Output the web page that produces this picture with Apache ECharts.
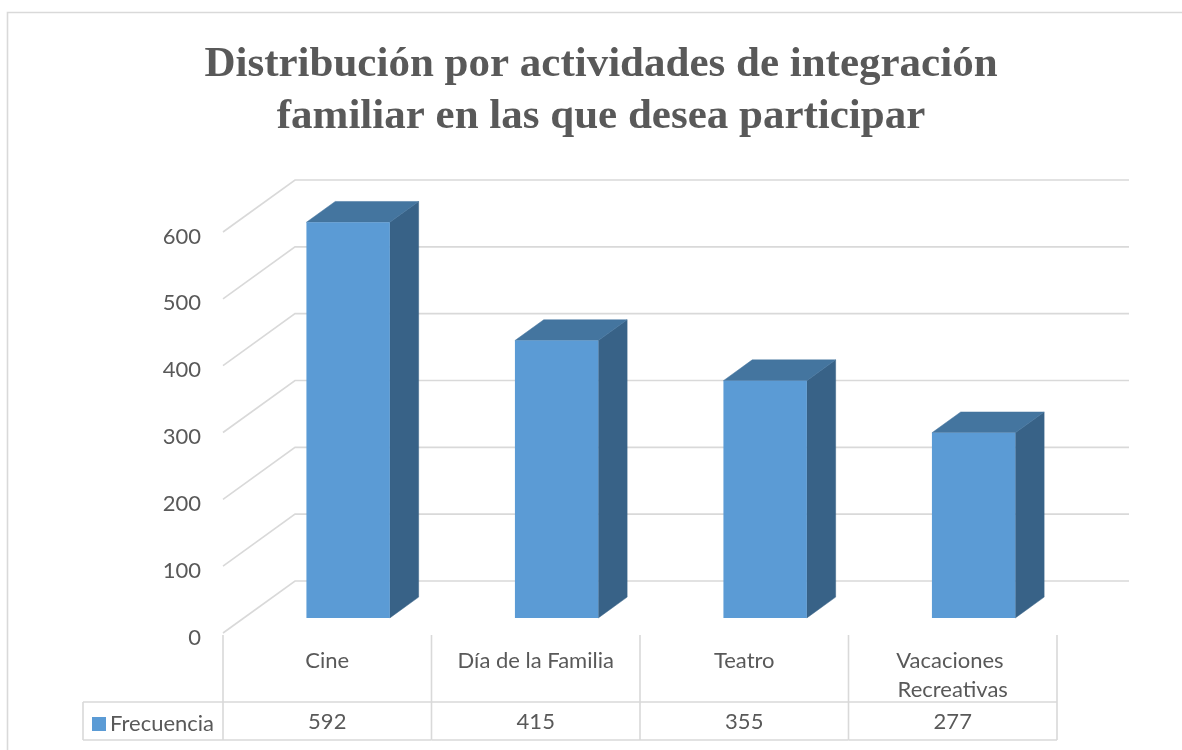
<!DOCTYPE html>
<html>
<head>
<meta charset="utf-8">
<script src="https://cdn.jsdelivr.net/npm/echarts@6/dist/echarts.min.js"></script>
<style>
html,body{margin:0;padding:0;background:#fff;}
#chart{width:1182px;height:750px;}
</style>
</head>
<body>
<div id="chart"></div>
<script>
const titleText = 'Distribución por actividades de integración\nfamiliar en las que desea participar';
const categories = ['Cine', 'Día de la Familia', 'Teatro', 'Vacaciones Recreativas'];
const seriesName = 'Frecuencia';
const frecuencia = [592, 415, 355, 277];
const yTicks = [0, 100, 200, 300, 400, 500, 600];

const DEPTH_X = 72, DEPTH_Y = -52;      // full depth projection
const BAR_FRONT = 0.29, BAR_BACK = 0.69; // bar position inside depth
const GRID_COLOR = '#d9d9d9';
const TEXT_COLOR = '#595959';
const FONT = 'Lato, "Open Sans", sans-serif';
const FS = 22;

const chart = echarts.init(document.getElementById('chart'), null, {renderer: 'canvas'});

function wallItem(params, api) {
  const cs = params.coordSys;
  const p = api.coord([0, api.value(1)]);
  const y = p[1];
  const x0 = cs.x;
  return {
    type: 'polyline',
    shape: {points: [[x0, y], [x0 + DEPTH_X, y + DEPTH_Y], [x0 + cs.width + DEPTH_X, y + DEPTH_Y]]},
    style: {stroke: GRID_COLOR, lineWidth: 1.6, fill: null},
    silent: true
  };
}

function barItem(params, api) {
  const idx = api.value(0);
  const top = api.coord([idx, api.value(1)]);
  const base = api.coord([idx, 0]);
  const w = api.size([1, 0])[0] * 0.4;
  const fx = DEPTH_X * BAR_FRONT, fy = DEPTH_Y * BAR_FRONT;
  const bx = DEPTH_X * (BAR_BACK - BAR_FRONT), by = DEPTH_Y * (BAR_BACK - BAR_FRONT);
  const x0 = top[0] - w / 2 + fx, x1 = x0 + w;
  const yt = top[1] + fy, yb = base[1] + fy;
  return {
    type: 'group',
    children: [
      {type: 'polygon', shape: {points: [[x1, yt], [x1 + bx, yt + by], [x1 + bx, yb + by], [x1, yb]]},
       style: {fill: '#386287', stroke: '#386287', lineWidth: 0.5}},
      {type: 'polygon', shape: {points: [[x0, yt], [x1, yt], [x1 + bx, yt + by], [x0 + bx, yt + by]]},
       style: {fill: '#44759f', stroke: '#44759f', lineWidth: 0.5}},
      {type: 'rect', shape: {x: x0, y: yt, width: w, height: yb - yt},
       style: {fill: '#5b9bd5'}}
    ]
  };
}

function tableItem(params, api) {
  const cs = params.coordSys;
  const idx = api.value(0);
  const c = api.coord([idx, 0]);
  const cw = api.size([1, 0])[0];
  const base = cs.y + cs.height;
  const rowTop = base + 69, rowBot = base + 107;
  const children = [];
  const xl = c[0] - cw / 2, xr = c[0] + cw / 2;
  const ls = {stroke: GRID_COLOR, lineWidth: 1.6};
  if (idx === 0) {
    children.push({type: 'line', shape: {x1: xl, y1: base + 2, x2: xl, y2: rowBot}, style: ls});
    children.push({type: 'line', shape: {x1: xl - 140, y1: rowTop, x2: xl, y2: rowTop}, style: ls});
    children.push({type: 'line', shape: {x1: xl - 140, y1: rowBot, x2: xl, y2: rowBot}, style: ls});
    children.push({type: 'line', shape: {x1: xl - 140, y1: rowTop, x2: xl - 140, y2: rowBot}, style: ls});
  }
  children.push({type: 'line', shape: {x1: xr, y1: base + 2, x2: xr, y2: rowBot}, style: ls});
  children.push({type: 'line', shape: {x1: xl, y1: rowTop, x2: xr, y2: rowTop}, style: ls});
  children.push({type: 'line', shape: {x1: xl, y1: rowBot, x2: xr, y2: rowBot}, style: ls});
  children.push({type: 'text', style: {text: String(api.value(1)), x: c[0], y: (rowTop + rowBot) / 2 + 1,
    align: 'center', verticalAlign: 'middle', fill: TEXT_COLOR, font: FS + 'px ' + FONT}});
  return {type: 'group', children: children, silent: true};
}

const option = {
  backgroundColor: '#ffffff',
  animation: false,
  title: {
    text: titleText,
    left: 601, top: 39, textAlign: 'center', padding: 0,
    textStyle: {fontFamily: '"Liberation Serif", serif', fontWeight: 'bold', fontSize: 43, lineHeight: 52, color: TEXT_COLOR}
  },
  graphic: [{type: 'rect', shape: {x: 7.5, y: 12.5, width: 1220, height: 800}, style: {fill: null, stroke: GRID_COLOR, lineWidth: 1.6}, silent: true, z: -10}],
  legend: {
    data: [seriesName], left: 92, top: 713, itemWidth: 14, itemHeight: 14, itemGap: 6, padding: 0,
    icon: 'rect', textStyle: {color: TEXT_COLOR, fontSize: FS, fontFamily: FONT, padding: [0, 0, 0, -1]}
  },
  grid: {left: 223, right: 125, top: 232, bottom: 117, containLabel: false},
  xAxis: {
    type: 'category', data: categories,
    axisLine: {show: false}, axisTick: {show: false}, splitLine: {show: false},
    axisLabel: {color: TEXT_COLOR, fontSize: FS, fontFamily: FONT, margin: 13, lineHeight: 29, interval: 0,
      width: 180, overflow: 'break'}
  },
  yAxis: {
    type: 'value', min: 0, max: 600, interval: 100,
    axisLine: {show: false}, axisTick: {show: false}, splitLine: {show: false},
    axisLabel: {color: TEXT_COLOR, fontSize: FS, fontFamily: FONT, margin: 22,
      formatter: '{v|{value}}',
      rich: {v: {color: TEXT_COLOR, fontSize: FS, fontFamily: FONT, padding: [9, 0, 0, 0]}}}
  },
  series: [
    {type: 'custom', name: 'wall', renderItem: wallItem, data: yTicks.map(v => [0, v]), z: 1, silent: true,
     encode: {x: 0, y: 1}},
    {type: 'custom', name: seriesName, renderItem: barItem, itemStyle: {color: '#5b9bd5'},
     data: frecuencia.map((v, i) => [i, v]), encode: {x: 0, y: 1}, z: 3},
    {type: 'custom', name: 'table', renderItem: tableItem, data: frecuencia.map((v, i) => [i, v]),
     encode: {x: 0, y: 1}, z: 2, silent: true, clip: false}
  ]
};
chart.setOption(option);
</script>
</body>
</html>
